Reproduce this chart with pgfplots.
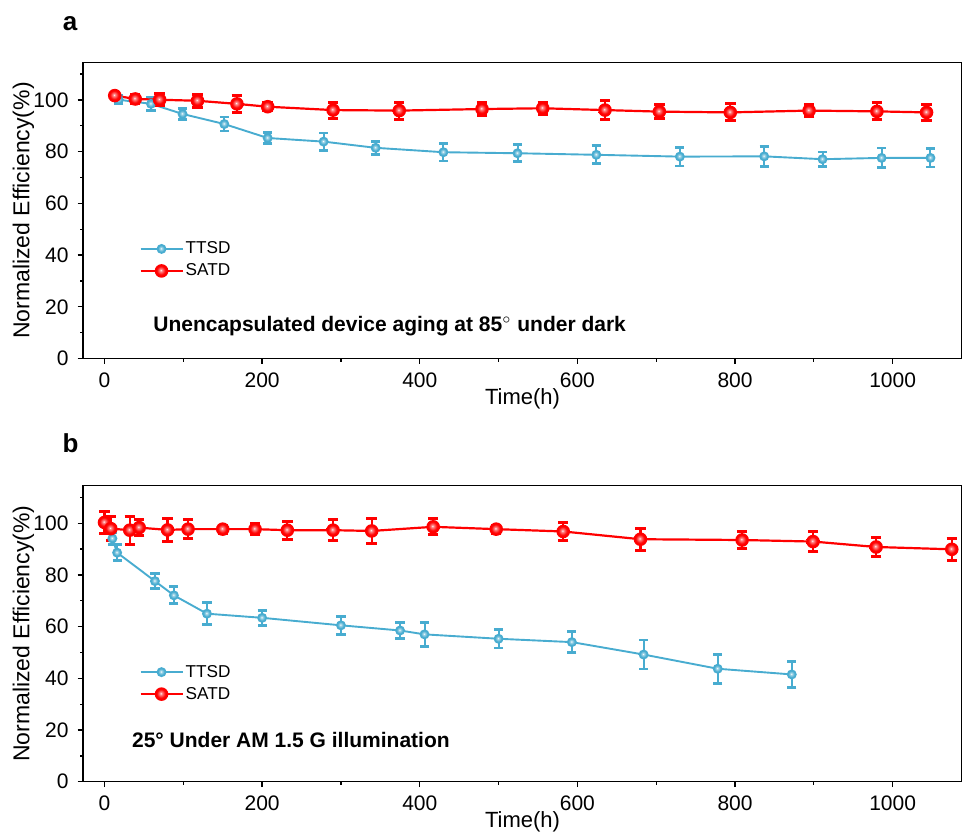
\documentclass[border=0pt]{standalone}
\usepackage{fontspec}
\setmainfont{Liberation Sans}
\usepackage{pgfplots}
\usepackage{pgfplotstable}
\pgfplotsset{compat=1.18}
\usetikzlibrary{plotmarks}

\definecolor{ttsdblue}{RGB}{72,172,208}
\definecolor{satdred}{RGB}{255,0,0}

% glossy markers: a small white highlight fading into the series colour
\pgfdeclareradialshading{redglow}{\pgfpoint{-3bp}{3bp}}{%
  color(0bp)=(white); color(4bp)=(white!55!satdred); color(16bp)=(satdred); color(50bp)=(satdred)}
\pgfdeclareradialshading{blueglow}{\pgfpoint{-3bp}{3bp}}{%
  color(0bp)=(white); color(4bp)=(white!55!ttsdblue); color(16bp)=(ttsdblue); color(50bp)=(ttsdblue)}
\pgfdeclareplotmark{redglow}{%
  \pgfpathcircle{\pgfpointorigin}{\pgfplotmarksize}\pgfshadepath{redglow}{0}\pgfusepath{}}
\pgfdeclareplotmark{blueglow}{%
  \pgfpathcircle{\pgfpointorigin}{\pgfplotmarksize}\pgfshadepath{blueglow}{0}\pgfusepath{}}

% (a) unencapsulated devices, 85 degC, dark
\pgfplotstableread{
t     v      e
18    100.1  1.6
59    98.5   2.6
99    94.6   2.2
152   90.7   2.7
207   85.3   2.1
278   83.9   3.3
344   81.5   2.5
430   79.8   3.4
524   79.4   3.3
624   78.8   3.5
730   78.1   3.6
837   78.2   3.8
911   77.1   2.8
986   77.6   3.8
1048  77.6   3.5
}\darkTTSD

\pgfplotstableread{
t     v      e
13    101.7  1.0
39    100.4  1.6
70    100.1  2.3
118   99.7   2.6
168   98.5   3.3
207   97.4   1.6
290   96.1   3.1
374   95.9   3.3
479   96.5   2.6
556   96.8   2.3
635   96.1   3.6
704   95.5   2.6
794   95.2   3.3
894   95.9   2.3
980   95.6   3.3
1043  95.2   3.2
}\darkSATD

% (b) 25 degC, AM 1.5 G illumination
\pgfplotstableread{
t     v      e
0     100.0  1.5
10    94.1   2.2
16    88.6   3.1
64    77.6   2.8
88    72.1   3.3
130   65.0   4.2
200   63.4   2.9
300   60.5   3.4
375   58.5   3.1
406   57.0   4.6
500   55.3   3.6
593   54.0   4.1
684   49.2   5.6
778   43.7   5.6
872   41.5   4.9
}\lightTTSD

\pgfplotstableread{
t     v      e
0     100.3  4.3
8     97.9   4.6
32    97.3   5.4
44    98.3   3.0
80    97.4   4.4
106   97.7   3.6
150   97.7   1.6
191   97.7   2.0
232   97.3   3.5
290   97.3   4.0
339   97.0   4.8
417   98.6   3.1
497   97.7   1.6
582   96.8   3.3
680   93.8   4.2
809   93.5   3.1
899   92.9   3.9
979   90.8   3.7
1075  89.9   4.3
}\lightSATD

\pgfplotsset{
  panel/.style={
    scale only axis, width=439.5pt, height=148pt,
    xmin=-27.3, xmax=1088, ymin=0, ymax=114.5,
    xtick={0,200,...,1000}, minor xtick={100,300,...,900},
    ytick={0,20,...,100}, minor ytick={10,30,...,110},
    tick pos=left, tick align=outside,
    major tick length=2.7pt, minor tick length=1.5pt,
    axis line style={line width=0.65pt},
    every tick/.style={black, line width=0.65pt},
    /pgf/number format/assume math mode=true,
    /pgf/number format/set thousands separator={},
    ticklabel style={font=\fontsize{10.5}{12}\selectfont},
    xticklabel style={yshift=-1pt},
    yticklabel style={xshift=-1pt},
    xlabel={Time(h)}, ylabel={Normalized Efficiency(\%)},
    xlabel style={font=\fontsize{11}{13}\selectfont, at={(axis description cs:0.5,-0.135)}, anchor=center},
    ylabel style={font=\fontsize{11.5}{13}\selectfont, at={(axis description cs:-0.0677,0.5)}, anchor=center},
    legend cell align=left,
    legend style={draw=none, fill=none, at={(axis cs:43.8,46.8)}, anchor=north west, inner sep=0pt,
      font=\fontsize{8.6}{10}\selectfont, nodes={text height=7pt, text depth=2pt, inner sep=1pt}},
    legend image code/.code={\draw[mark repeat=2, mark phase=2, #1] plot coordinates {(0pt,0pt) (10.5pt,0pt) (21pt,0pt)};},
  },
  ttsd/.style={color=ttsdblue, line width=0.95pt, mark=blueglow, mark size=2.5pt,
    error bars/.cd, y dir=both, y explicit,
    error bar style={color=ttsdblue, line width=1pt},
    error mark options={color=ttsdblue, rotate=90, mark size=2.3pt, line width=1.4pt}},
  satd/.style={color=satdred, line width=1.1pt, mark=redglow, mark size=3.4pt,
    error bars/.cd, y dir=both, y explicit,
    error bar style={color=satdred, line width=1.1pt},
    error mark options={color=satdred, rotate=90, mark size=2.6pt, line width=1.5pt}},
}

\begin{document}
\begin{tikzpicture}
\path[use as bounding box] (0pt,0pt) rectangle (481pt,-416pt);

\node[anchor=base, font=\bfseries\fontsize{13}{15}\selectfont] at (35pt,-15pt) {a};
\node[anchor=base, font=\bfseries\fontsize{13}{15}\selectfont] at (35.25pt,-226pt) {b};

\begin{axis}[panel, at={(41.5pt,-31.25pt)}, anchor=north west]
  \addplot[ttsd] table[x=t, y=v, y error=e] {\darkTTSD};
  \addlegendentry{TTSD}
  \addplot[satd] table[x=t, y=v, y error=e] {\darkSATD};
  \addlegendentry{SATD}
  \node[anchor=base west, inner sep=0pt, font=\bfseries\fontsize{10.5}{12}\selectfont]
    at (axis cs:61.5,10.6) {Unencapsulated device aging at 85$^{\circ}$ under dark};
\end{axis}

\begin{axis}[panel, at={(41.5pt,-242.85pt)}, anchor=north west]
  \addplot[ttsd] table[x=t, y=v, y error=e] {\lightTTSD};
  \addlegendentry{TTSD}
  \addplot[satd] table[x=t, y=v, y error=e] {\lightSATD};
  \addlegendentry{SATD}
  \node[anchor=base west, inner sep=0pt, font=\bfseries\fontsize{10.5}{12}\selectfont]
    at (axis cs:34.5,13.2) {25° Under AM 1.5 G illumination};
\end{axis}
\end{tikzpicture}
\end{document}
